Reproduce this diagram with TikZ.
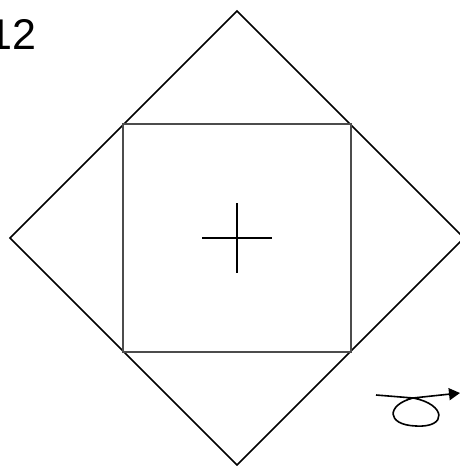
\documentclass[tikz,border=0pt]{standalone}
\usepackage{fontspec}
\setmainfont{Liberation Sans}
\usetikzlibrary{arrows.meta}
\tikzset{
  rim/.style={draw=black, line width=1.5pt, line join=miter},
  frame/.style={draw=black!70, line width=1.2pt},
  crossline/.style={draw=black, line width=1.1pt},
  num/.style={font=\fontsize{43}{43}\selectfont, inner sep=0pt, anchor=base west},
  trail/.style={line width=1.6pt, -{Triangle[length=11pt,width=12pt]}},
}
\begin{document}
\begin{tikzpicture}[x=1pt, y=-1pt]
  \useasboundingbox (0,0) rectangle (460,466);
  % outer diamond
  \coordinate (top) at (237,11);
  \coordinate (rgt) at (464,238);
  \coordinate (bot) at (237,465);
  \coordinate (lft) at (10,238);
  \draw[rim] (top) -- (rgt) -- (bot) -- (lft) -- cycle;
  % inner square
  \coordinate (sqa) at (123,124);
  \coordinate (sqb) at (351,352);
  \draw[frame] (sqa) rectangle (sqb);
  % centre cross
  \coordinate (cw) at (202,238);
  \coordinate (ce) at (272,238);
  \coordinate (cn) at (237,203);
  \coordinate (cs) at (237,273);
  \draw[crossline] (cw) -- (ce);
  \draw[crossline] (cn) -- (cs);
  % label
  \node[num] (lbl) at (-12,49) {12};
  % loop arrow
  \coordinate (ls) at (376,395);
  \coordinate (lx) at (413,398);
  \coordinate (le) at (460,393);
  \draw[trail] (ls) -- (lx) .. controls (446,404) and (448,428) .. (416,426)
    .. controls (386,425) and (386,405) .. (lx) -- (le);
\end{tikzpicture}
\end{document}
